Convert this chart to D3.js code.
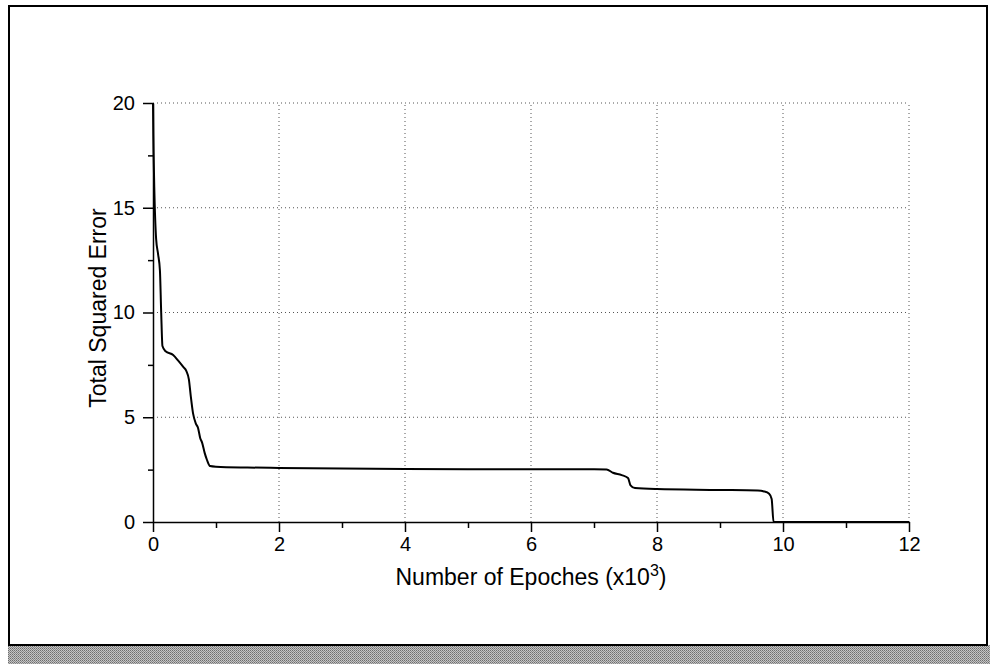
<!DOCTYPE html>
<html>
<head>
<meta charset="utf-8">
<script src="https://cdn.jsdelivr.net/npm/d3@7"></script>
<style>
  body { margin: 0; background: #fff; }
  text { font-family: "Liberation Sans", Arial, Helvetica, sans-serif; fill: #000; }
</style>
</head>
<body>
<div id="chart"></div>
<script>
// epochs in thousands, total squared error
var epochs = [0, 0.005, 0.01, 0.02, 0.05, 0.08, 0.11, 0.13, 0.15, 0.2, 0.32, 0.4, 0.48, 0.53, 0.57, 0.6,
  0.635, 0.68, 0.714, 0.75, 0.778, 0.82, 0.857, 0.905, 1.0, 1.5, 2.0, 3.0, 4.0, 5.0, 6.0, 7.0, 7.2,
  7.3, 7.44, 7.54, 7.58, 7.65, 8.0, 9.0, 9.6, 9.7, 9.78, 9.82, 9.85, 12];
var sqError = [20, 18.5, 17.5, 16, 13.5, 12.8, 12, 10, 8.4, 8.15, 7.97, 7.7, 7.4, 7.2, 6.8, 6.0,
  5.2, 4.7, 4.5, 4.0, 3.8, 3.3, 2.96, 2.67, 2.64, 2.6, 2.58, 2.55, 2.53, 2.52, 2.52, 2.52, 2.51,
  2.35, 2.24, 2.1, 1.75, 1.62, 1.57, 1.53, 1.5, 1.46, 1.35, 1.1, 0, 0];
var xMajor = [0, 2, 4, 6, 8, 10, 12];
var xMinor = [1, 3, 5, 7, 9, 11];
var yMajor = [0, 5, 10, 15, 20];
var yMinor = [2.5, 7.5, 12.5, 17.5];

var width = 990, height = 664;
var plotLeft = 153, plotRight = 909, plotTop = 103, plotBottom = 522;

var svg = d3.select("#chart").append("svg")
    .attr("width", width)
    .attr("height", height);

// stippled shadow band under the frame
var defs = svg.append("defs");
var pat = defs.append("pattern")
    .attr("id", "stip")
    .attr("width", 2).attr("height", 2)
    .attr("patternUnits", "userSpaceOnUse");
pat.append("rect").attr("width", 2).attr("height", 2).attr("fill", "#c4c4c4");
pat.append("rect").attr("width", 1).attr("height", 1).attr("fill", "#6e6e6e");
pat.append("rect").attr("x", 1).attr("y", 1).attr("width", 1).attr("height", 1).attr("fill", "#8a8a8a");

svg.append("rect")
    .attr("x", 8).attr("y", 645)
    .attr("width", width - 8).attr("height", height - 645)
    .attr("fill", "url(#stip)");

svg.append("rect")
    .attr("x", 9).attr("y", 6)
    .attr("width", 978).attr("height", 639)
    .attr("fill", "#fff")
    .attr("stroke", "#000")
    .attr("stroke-width", 2);

var x = d3.scaleLinear().domain([0, 12]).range([plotLeft, plotRight]);
var y = d3.scaleLinear().domain([0, 20]).range([plotBottom, plotTop]);

// dotted grid
svg.append("g")
  .selectAll("line")
  .data(xMajor.slice(1))
  .enter().append("line")
    .attr("x1", d => x(d)).attr("x2", d => x(d))
    .attr("y1", y(0)).attr("y2", y(20))
    .attr("stroke", "#555")
    .attr("stroke-width", 1)
    .attr("stroke-dasharray", "1,3");

svg.append("g")
  .selectAll("line")
  .data(yMajor.slice(1))
  .enter().append("line")
    .attr("x1", x(0)).attr("x2", x(12))
    .attr("y1", d => y(d)).attr("y2", d => y(d))
    .attr("stroke", "#555")
    .attr("stroke-width", 1)
    .attr("stroke-dasharray", "1,3");

// axes
svg.append("g")
    .attr("transform", "translate(0," + plotBottom + ")")
    .call(d3.axisBottom(x).tickValues(xMajor).tickSize(10).tickSizeOuter(0).tickPadding(5));
svg.append("g")
    .attr("transform", "translate(0," + plotBottom + ")")
    .call(d3.axisBottom(x).tickValues(xMinor).tickSize(6).tickFormat(""))
    .call(g => g.select(".domain").remove());

svg.append("g")
    .attr("transform", "translate(" + plotLeft + ",0)")
    .call(d3.axisLeft(y).tickValues(yMajor).tickSize(10).tickSizeOuter(0).tickPadding(8));
svg.append("g")
    .attr("transform", "translate(" + plotLeft + ",0)")
    .call(d3.axisLeft(y).tickValues(yMinor).tickSize(5).tickFormat(""))
    .call(g => g.select(".domain").remove());

svg.selectAll(".tick line").attr("stroke", "#000").attr("stroke-width", 1.5);
svg.selectAll(".domain").attr("stroke", "#000").attr("stroke-width", 1.5);
svg.selectAll(".tick text")
    .attr("font-family", null)
    .attr("font-size", null)
    .style("font-family", "'Liberation Sans', Arial, sans-serif")
    .style("font-size", "20px");

// curve
var line = d3.line()
    .x((d, i) => x(epochs[i]))
    .y(d => y(d))
    .curve(d3.curveMonotoneX);

svg.append("path")
    .datum(sqError)
    .attr("d", line)
    .attr("fill", "none")
    .attr("stroke", "#000")
    .attr("stroke-width", 2);

// axis labels
var xl = svg.append("text")
    .attr("x", (plotLeft + plotRight) / 2)
    .attr("y", 585)
    .attr("text-anchor", "middle")
    .style("font-size", "23px");
xl.append("tspan").text("Number of Epoches (x10");
xl.append("tspan").attr("dy", -9).style("font-size", "16px").text("3");
xl.append("tspan").attr("dy", 9).text(")");

svg.append("text")
    .attr("transform", "translate(106,308) rotate(-90)")
    .attr("text-anchor", "middle")
    .style("font-size", "23px")
    .text("Total Squared Error");
</script>
</body>
</html>
